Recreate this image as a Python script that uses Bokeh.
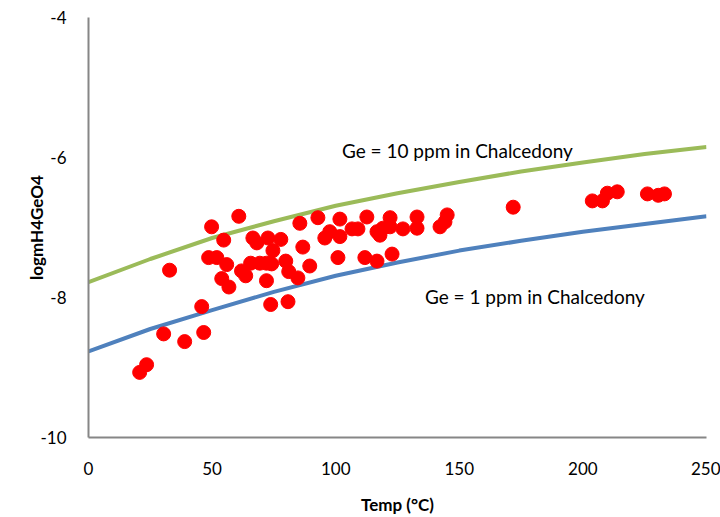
from bokeh.plotting import figure
from bokeh.models import ColumnDataSource, FixedTicker, Label, CustomJSTickFormatter
from bokeh.embed import file_html
from bokeh.resources import INLINE

# Measured data
temp = [20.7, 23.5, 32.8, 30.4, 38.9, 46.6, 45.8, 49.8, 60.8, 54.7, 48.6, 51.9,
        55.9, 53.9, 56.8, 61.9, 63.6, 65.6, 66.5, 68.1, 72.6, 77.8, 74.6, 69.3,
        72.0, 74.1, 72.0, 73.7, 80.7, 79.8, 81.0, 84.7, 86.7, 89.5, 85.5, 92.8,
        95.6, 97.6, 101.7, 112.6, 122.0, 132.9, 145.1, 144.2, 142.2, 101.7,
        106.6, 109.0, 116.7, 117.9, 119.1, 122.0, 127.2, 132.9, 100.9, 111.8,
        116.7, 122.8, 171.8, 203.8, 207.9, 209.9, 213.9, 226.1, 230.5, 233.0]
logm = [-9.07, -8.96, -7.61, -8.52, -8.63, -8.50, -8.13, -6.99, -6.84, -7.18, -7.43, -7.43,
        -7.53, -7.73, -7.85, -7.62, -7.69, -7.51, -7.15, -7.22, -7.15, -7.17, -7.33, -7.51,
        -7.51, -7.52, -7.76, -8.10, -8.06, -7.48, -7.63, -7.72, -7.28, -7.55, -6.94, -6.86,
        -7.15, -7.06, -6.88, -6.85, -6.86, -6.85, -6.82, -6.92, -6.99, -7.13,
        -7.02, -7.02, -7.06, -7.11, -7.01, -6.99, -7.02, -7.01, -7.43, -7.43,
        -7.48, -7.38, -6.71, -6.62, -6.62, -6.51, -6.49, -6.52, -6.54, -6.52]

curve_t = [0, 25, 50, 75, 100, 125, 150, 175, 200, 225, 250]
ge10 = [-7.78, -7.45, -7.15, -6.91, -6.69, -6.51, -6.35, -6.20, -6.07, -5.95, -5.85]
ge1 = [-8.77, -8.45, -8.18, -7.92, -7.69, -7.50, -7.33, -7.19, -7.06, -6.95, -6.84]

x_ticks = [0, 50, 100, 150, 200, 250]
y_ticks = [-10, -8, -6, -4]

FONT = "Lato"

p = figure(width=720, height=517, x_range=(0, 250), y_range=(-10, -4),
           output_backend="svg", toolbar_location=None,
           min_border_left=88, min_border_right=14, min_border_top=17, min_border_bottom=79)
p.outline_line_color = None
p.xgrid.visible = False
p.ygrid.visible = False
p.background_fill_color = "white"

p.line(curve_t, ge10, line_color="#9BBB59", line_width=4)
p.line(curve_t, ge1, line_color="#4F81BD", line_width=4)

src = ColumnDataSource(dict(x=temp, y=logm))
p.scatter("x", "y", source=src, size=14, fill_color="#FF0000", line_color="#FF0000")

fmt = CustomJSTickFormatter(code="return tick.toString();")
for ax in (p.xaxis[0], p.yaxis[0]):
    ax.axis_line_color = "#868686"
    ax.axis_line_width = 2
    ax.major_tick_line_color = None
    ax.minor_tick_line_color = None
    ax.major_label_text_font = FONT
    ax.major_label_text_font_size = "17px"
    ax.major_label_text_color = "black"
    ax.axis_label_text_font = FONT
    ax.axis_label_text_font_size = "17px"
    ax.axis_label_text_font_style = "bold"
    ax.axis_label_text_color = "black"
    ax.formatter = fmt

p.xaxis.ticker = FixedTicker(ticks=x_ticks)
p.yaxis.ticker = FixedTicker(ticks=y_ticks)
p.xaxis.axis_label = "Temp (°C)"
p.yaxis.axis_label = "logmH4GeO4"
p.xaxis.major_label_standoff = 18
p.yaxis.major_label_standoff = 16
p.xaxis.axis_label_standoff = 16
p.yaxis.axis_label_standoff = -10

p.add_layout(Label(x=102.5, y=-5.895, text="Ge = 10 ppm in Chalcedony",
                   text_font=FONT, text_font_size="19px", text_color="black",
                   text_baseline="alphabetic"))
p.add_layout(Label(x=136.1, y=-7.99, text="Ge = 1 ppm in Chalcedony",
                   text_font=FONT, text_font_size="19px", text_color="black",
                   text_baseline="alphabetic"))

open("out.html", "w").write(file_html(p, INLINE))
